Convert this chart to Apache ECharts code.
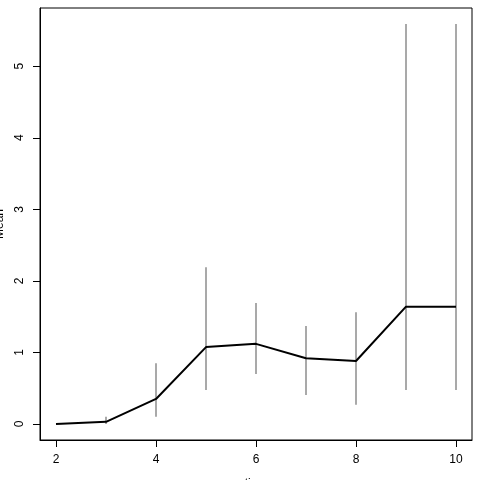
<!DOCTYPE html>
<html>
<head>
<meta charset="utf-8">
<script src="https://cdn.jsdelivr.net/npm/echarts@6/dist/echarts.min.js"></script>
<style>html,body{margin:0;padding:0;background:#fff}#c{width:480px;height:480px}</style>
</head>
<body>
<div id="c"></div>
<script>
const xs = [2, 3, 4, 5, 6, 7, 8, 9, 10];
const means = [0, 0.03, 0.35, 1.075, 1.12, 0.92, 0.88, 1.64, 1.64];
const lower = [null, 0, 0.10, 0.475, 0.70, 0.405, 0.27, 0.475, 0.475];
const upper = [null, 0.10, 0.85, 2.19, 1.69, 1.37, 1.56, 5.59, 5.59];
const xTicks = [2, 4, 6, 8, 10];
const yTicks = [0, 1, 2, 3, 4, 5];
const xName = 'time';
const yName = 'Mean';

const errData = [];
xs.forEach((x, i) => { if (lower[i] !== null) errData.push([x, lower[i], upper[i]]); });

const font = 'Liberation Sans, Arial, Helvetica, sans-serif';
const chart = echarts.init(document.getElementById('c'), null, {renderer: 'canvas'});
chart.setOption({
  animation: false,
  grid: {left: 40, right: 8, top: 8, bottom: 40, containLabel: false, outerBoundsMode: 'none',
         show: true, borderColor: '#000', borderWidth: 1, backgroundColor: 'transparent'},
  xAxis: {
    type: 'value', min: 1.68, max: 10.32,
    name: xName, nameLocation: 'middle', nameGap: 38,
    nameTextStyle: {fontFamily: font, fontSize: 12, color: '#000'},
    splitLine: {show: false},
    axisLine: {show: true, onZero: false, lineStyle: {color: '#000', width: 1}},
    axisTick: {show: true, length: 7, lineStyle: {color: '#000'}, customValues: xTicks},
    axisLabel: {customValues: xTicks, fontFamily: font, fontSize: 12, color: '#000', margin: 14}
  },
  yAxis: {
    type: 'value', min: -0.2236, max: 5.8136,
    name: yName, nameLocation: 'middle', nameGap: 34,
    nameTextStyle: {fontFamily: font, fontSize: 12, color: '#000'},
    splitLine: {show: false},
    axisLine: {show: true, onZero: false, lineStyle: {color: '#000', width: 1}},
    axisTick: {show: true, length: 7, lineStyle: {color: '#000'}, customValues: yTicks},
    axisLabel: {customValues: yTicks, rotate: 90, fontFamily: font, fontSize: 12, color: '#000', margin: 14}
  },
  series: [
    {
      type: 'custom',
      data: errData,
      z: 1,
      renderItem: function (params, api) {
        const p1 = api.coord([api.value(0), api.value(1)]);
        const p2 = api.coord([api.value(0), api.value(2)]);
        return {type: 'line', shape: {x1: p1[0], y1: p1[1], x2: p2[0], y2: p2[1]},
                style: {stroke: '#8c8c8c', lineWidth: 1.5}};
      }
    },
    {
      type: 'line',
      data: xs.map((x, i) => [x, means[i]]),
      showSymbol: false,
      z: 2,
      lineStyle: {color: '#000', width: 2}
    }
  ]
});
</script>
</body>
</html>
